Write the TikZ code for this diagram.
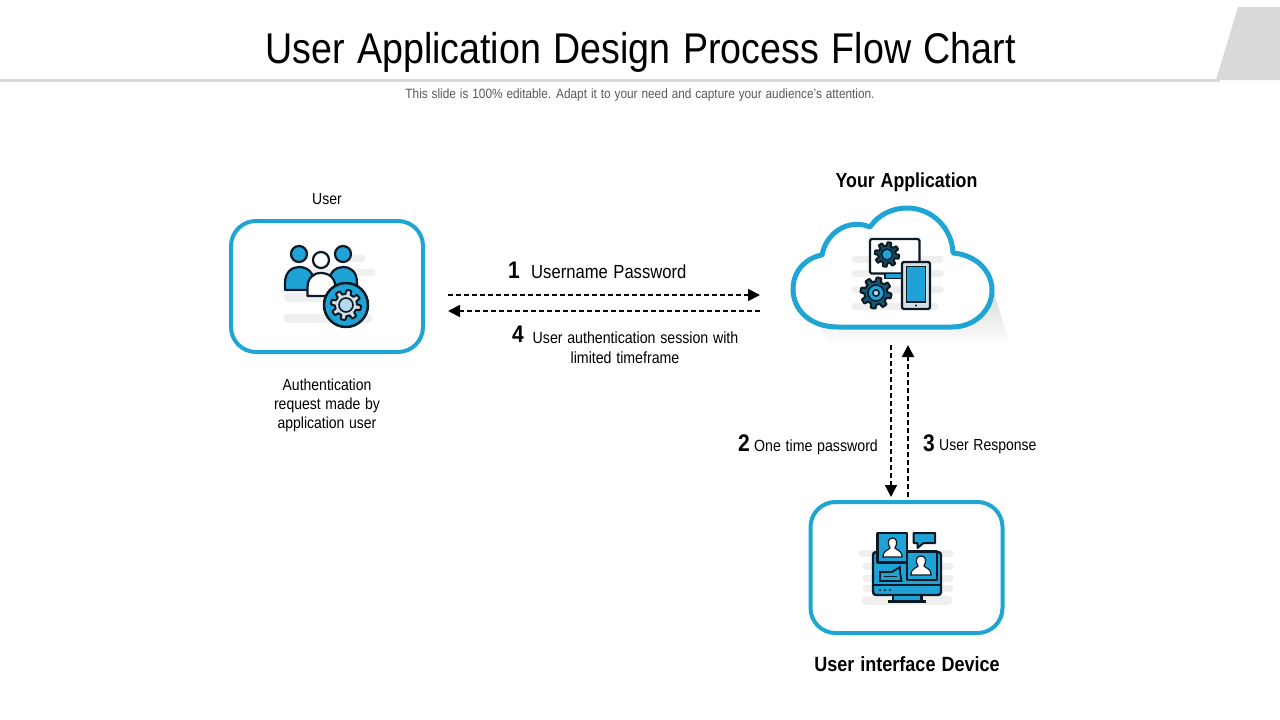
\documentclass[tikz,border=0pt]{standalone}
\usepackage{fontspec}
\setmainfont[FakeStretch=0.875,WordSpace=1.2]{Liberation Sans}
\usetikzlibrary{arrows.meta,shadings}
\definecolor{bl}{HTML}{1FA5D3}
\definecolor{ic}{HTML}{1FA3D6}
\definecolor{lb}{HTML}{B5D8EE}
\definecolor{gr}{HTML}{D5DEE4}
\definecolor{ink}{HTML}{0B1A24}
\definecolor{rule}{HTML}{D9D9D9}
\definecolor{blob}{HTML}{EFEFEF}
\newcommand{\mygear}[5]{% x,y,r,tooth,fill
  \fill[#5,draw=ink,line width=2pt,line join=round] plot[domain=0:360,samples=193] ({#1+(#3+#4*max(-1,min(1,3*sin(8*\x)))/2)*cos(\x)},{#2+(#3+#4*max(-1,min(1,3*sin(8*\x)))/2)*sin(\x)}) -- cycle;
}
\tikzset{x=1pt,y=-1pt,
  box/.style={draw=bl,line width=4pt,rounded corners=25pt,fill=white,minimum width=192pt,minimum height=131pt,inner sep=0pt},
  lab/.style={inner sep=0pt,align=center,text=black,font=\fontsize{16}{19}\selectfont},
  head/.style={inner sep=0pt,align=center,text=black,font=\fontsize{20.3}{24}\bfseries\selectfont},
  num/.style={inner sep=0pt,text=black,font=\fontsize{24}{24}\selectfont\bfseries},
  flow/.style={line width=1.8pt,dash pattern=on 5pt off 3pt,-{Triangle[length=12pt,width=12pt]}},
  ico/.style={draw=ink,line width=2.2pt,line join=round},
  bg/.style={line width=7pt,blob,line cap=round}}
\begin{document}
\begin{tikzpicture}
\useasboundingbox (0,0) rectangle (1280,720);
\fill[white] (0,0) rectangle (1280,720);
% header
\fill[rule] (0,79) rectangle (1220,82);
\fill[rule] (1238,7) -- (1280,7) -- (1280,80) -- (1216,80) -- cycle;
\node[inner sep=0pt,font=\fontsize{43}{48}\selectfont] (title) at (640.5,52.5) {User Application Design Process Flow Chart};
\node[inner sep=0pt,text=black!65,font=\fontsize{13.5}{16}\selectfont] (sub) at (640,95.5) {This slide is 100\% editable. Adapt it to your need and capture your audience's attention.};
% boxes
\node[box] (userbox) at (327,286.5) {};
\node[box] (devbox) at (906.5,567.5) {};
% cloud shadow
\shade[top color=black!15,bottom color=white] (815,320) -- (985,300) -- (993,290) -- (1009,342) -- (830,346) -- cycle;
% cloud
\draw[bl,line width=5pt,fill=white,line join=round] (838,327)
  .. controls (810,327) and (793,310) .. (793,289)
  .. controls (793,272) and (805,258) .. (822,255)
  .. controls (826,233) and (848,218) .. (870,227)
  .. controls (878,215) and (892,208) .. (907,208)
  .. controls (932,208) and (952,228) .. (953,253)
  .. controls (977,255) and (992,272) .. (992,290)
  .. controls (992,310) and (975,327) .. (952,327) -- cycle;
% user icon
\draw[bg] (350,258) -- (362,258); \draw[bg] (300,272) -- (372,272); \draw[bg,line width=9pt] (288,297) -- (330,297); \draw[bg,line width=9pt] (288,318) -- (368,318);
\draw[ico,fill=ic] (285,290) -- (285,283) .. controls (285,272) and (292,267) .. (299,267) .. controls (307,267) and (314,272) .. (314,283) -- (314,290) -- cycle;
\draw[ico,fill=ic] (329,290) -- (329,283) .. controls (329,272) and (336,267) .. (343,267) .. controls (351,267) and (357,272) .. (357,283) -- (357,296) -- (329,296) -- cycle;
\draw[ico,fill=white] (307.5,296) -- (307.5,288) .. controls (307.5,278) and (313,273) .. (321,273) .. controls (329,273) and (335.5,278) .. (335.5,288) -- (335.5,296) -- cycle;
\draw[ico,fill=ic] (299,254) circle (8);
\draw[ico,fill=ic] (343,254) circle (8);
\draw[ico,fill=white] (321,260) circle (8);
\draw[ico,fill=ic,line width=2.5pt] (346,305) circle (22);
\mygear{346}{305}{13}{4}{gr}
\draw[draw=ink,line width=1.6pt,fill=lb] (346,305) circle (7);
% cloud icon
\draw[bg] (855,259) -- (940,259); \draw[bg] (855,273) -- (940,273); \draw[bg] (855,289) -- (940,289); \draw[bg] (855,306) -- (935,306);
\draw[ico,fill=white,rounded corners=1.5pt] (870,239) rectangle (919.5,273.5);
\fill[ic] (885,273.5) rectangle (905,278.5); \draw[ink,line width=1.5pt] (885,273.5) -- (885,278.5) -- (905,278.5);
\mygear{887}{254.5}{10.5}{3.5}{ink!65!ic}
\draw[ink,line width=1.5pt,fill=ic] (887,254.5) circle (5.5);
\mygear{876}{293}{13.5}{4}{ink!55!ic}
\draw[ink,line width=1.5pt,fill=ic] (876,293) circle (8);
\draw[ink,line width=1.5pt,fill=lb] (876,293) circle (3.2);
\draw[ico,fill=gr,rounded corners=2pt] (902,262) rectangle (930,309);
\draw[ink,line width=1.2pt,fill=ic] (906.5,266.5) rectangle (925.5,302);
\fill[ink] (916,305.5) circle (1.2);
% device icon
\draw[bg] (862,553) -- (950,553); \draw[bg] (866,566) -- (950,566); \draw[bg] (866,578) -- (950,578); \draw[bg] (866,588) -- (950,588); \draw[bg,line width=9pt] (866,600) -- (948,600);
\draw[ico,fill=ic,rounded corners=3pt,line width=2.4pt] (873,552) rectangle (941,595);
\draw[ink,line width=1.8pt] (873,585) -- (941,585);
\fill[ink] (880,590) circle (1.2) (885,590) circle (1.2) (890,590) circle (1.2);
\draw[ico,fill=ic] (893,595) rectangle (921.5,601.5);
\draw[ink,line width=2.2pt] (888,601.5) -- (926,601.5);
\draw[ico,fill=ic] (877.5,533) rectangle (907,562.5);
\fill[white,draw=ink,line width=1.2pt] (883,557) .. controls (883,550) and (889,550) .. (890,548) .. controls (887,543) and (888,538) .. (892.5,538) .. controls (897,538) and (898,543) .. (895,548) .. controls (896,550) and (902,550) .. (902,557) -- cycle;
\draw[ico,fill=ic] (907,551.5) rectangle (937,580);
\fill[white,draw=ink,line width=1.2pt] (911,575) .. controls (911,568) and (917,568) .. (918,566) .. controls (915,561) and (916,556) .. (921,556) .. controls (926,556) and (927,561) .. (924,566) .. controls (925,568) and (931,568) .. (931,575) -- cycle;
\draw[ico,fill=ic,line width=2pt] (913.5,533) -- (935,533) -- (935,543) -- (923.5,543) -- (917.5,548) -- (917.5,543) -- (913.5,543) -- cycle;
\draw[ink,line width=1.8pt,fill=ic] (880,572) -- (892,572) -- (900,567) -- (900,572.5) -- (901.5,581) -- (880,581) -- cycle;
\draw[ink,line width=1pt] (884,576.5) -- (897,576.5);
% connectors
\coordinate (a1) at (448,295); \coordinate (a2) at (760,295);
\coordinate (b1) at (760,311); \coordinate (b2) at (448,311);
\coordinate (c1) at (891,345); \coordinate (c2) at (891,497);
\coordinate (d1) at (908,497); \coordinate (d2) at (908,345);
\draw[flow] (a1) -- (a2);
\draw[flow] (b1) -- (b2);
\draw[flow] (c1) -- (c2);
\draw[flow] (d1) -- (d2);
% labels
\node[lab] (t1) at (327,199) {User};
\node[lab] (t2) at (327,405.5) {Authentication\\request made by\\application user};
\node[head] (t3) at (906.5,182.5) {Your Application};
\node[head,font=\fontsize{20.6}{24}\bfseries\selectfont] (t4) at (907,664.5) {User interface Device};
\node[num] (n1) at (514,270) {1};
\node[lab,anchor=west,font=\fontsize{19}{20}\selectfont] (l1) at (531,271.5) {Username Password};
\node[num] (n4) at (518,334) {4};
\node[lab,font=\fontsize{16.2}{21}\selectfont] (l4) at (635.5,337.5) {User authentication session with};
\node[lab,font=\fontsize{16.2}{21}\selectfont] (l4b) at (625,358) {limited timeframe};
\node[num] (n2) at (744,443) {2};
\node[lab,anchor=west,font=\fontsize{16.2}{20}\selectfont] (l2) at (754,447.5) {One time password};
\node[num] (n3) at (929,443) {3};
\node[lab,anchor=west,font=\fontsize{16}{20}\selectfont] (l3) at (939,447) {User Response};
\end{tikzpicture}
\end{document}
